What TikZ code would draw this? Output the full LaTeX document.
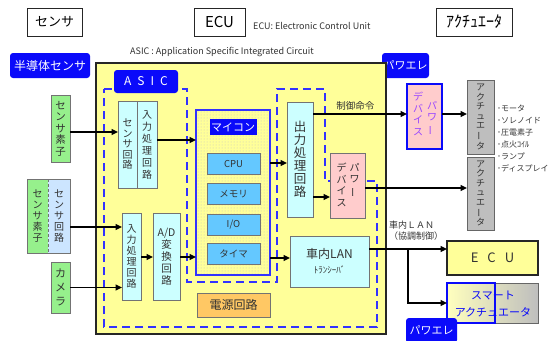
\documentclass[tikz,border=0pt]{standalone}
\usepackage{fontspec}
\setmainfont{Noto Sans CJK JP}
\usetikzlibrary{arrows.meta,patterns}
\definecolor{ecuyellow}{RGB}{255,255,153}
\definecolor{tagblue}{RGB}{10,10,250}
\definecolor{dashblue}{RGB}{50,50,255}
\definecolor{cyanbox}{RGB}{204,255,255}
\definecolor{skybox}{RGB}{100,200,255}
\definecolor{greenbox}{RGB}{150,240,140}
\definecolor{paleblue}{RGB}{204,229,255}
\definecolor{pinkbox}{RGB}{255,204,204}
\definecolor{orangebox}{RGB}{255,200,100}
\definecolor{actgray}{RGB}{190,190,190}
\definecolor{devpurple}{RGB}{153,70,255}
\newcommand{\vbar}{\rotatebox[origin=c]{90}{ー}}

\begin{document}
\begin{tikzpicture}[x=1pt, y=-1pt, font=\fontsize{10}{12}\selectfont,
      hdr/.style={draw=black!85, line width=0.8pt, fill=white, minimum height=28pt,
                  inner sep=0pt, outer sep=0pt, font=\fontsize{13}{13}\selectfont},
      tag/.style={fill=tagblue, rounded corners=3pt, text=white, inner sep=0pt,
                  minimum height=25pt, font=\fontsize{12}{12}\selectfont},
      blk/.style={draw=black!55, line width=0.6pt, inner sep=0pt, outer sep=0pt,
                  align=center, text=black!80},
      vtxt/.style={align=center, inner sep=0pt, text=black!80},
      note/.style={inner sep=0pt, text=black!80, font=\fontsize{9}{11}\selectfont},
      arr/.style={-{Triangle[length=6.5pt,width=6pt]}, line width=1.4pt}
    ]
    \useasboundingbox[fill=white] (0,0) rectangle (554,340);

    % headings
    \node[hdr, minimum width=55pt] (hdrSensor) at (54.5,22) {センサ};
    \node[hdr, minimum width=51pt, font=\fontsize{15}{15}\selectfont] (hdrEcu) at (219.5,22) {ECU};
    \node[note, anchor=west] (ecuNote) at (253,26) {ECU: Electronic Control Unit};
    \node[hdr, minimum width=76pt, font=\fontsize{16}{16}\selectfont] (hdrAct) at (474,22) {ｱｸﾁｭｴｰﾀ};
    \node[note] (asicNote) at (222,52) {ASIC : Application Specific Integrated Circuit};

    \node[tag, minimum width=80pt] (semiTag) at (50,65.5) {半導体センサ};
    \node[tag, minimum width=47pt, font=\fontsize{11}{11}\selectfont] (pwrTag) at (405.5,65.5) {パワエレ};

    % ECU body and ASIC outline
    \node[draw=black!85, line width=1.6pt, fill=ecuyellow, minimum width=290pt,
          minimum height=271pt, inner sep=0pt] (ecuBody) at (241,198.5) {};
    \draw[dashblue, line width=2pt, dash pattern=on 8pt off 5pt]
      (104,89) -- (187,89) -- (187,282) -- (277,282) -- (277,89) -- (325,89)
      -- (325,181) -- (377,181) -- (377,327) -- (104,327) -- cycle;
    \node[tag, minimum width=64pt, minimum height=23pt, font=\fontsize{12}{12}\selectfont]
      (asicTag) at (146,81.5) {A\hspace{6pt}S\hspace{6pt}I\hspace{6pt}C};

    % sensors
    \node[blk, fill=greenbox, minimum width=19pt, minimum height=67pt,
          font=\fontsize{10.5}{11.5}\selectfont] (sensElem) at (60.5,128.5) {セ\\ン\\サ\\素\\子};
    \node[blk, draw=none, fill=greenbox, minimum width=21pt, minimum height=74pt,
          font=\fontsize{10}{11}\selectfont] (sensElemB) at (37.5,216) {セ\\ン\\サ\\素\\子};
    \node[blk, draw=none, fill=paleblue, minimum width=22pt, minimum height=74pt,
          font=\fontsize{10}{11}\selectfont] (sensCircB) at (59,216) {セ\\ン\\サ\\回\\路};
    \draw[black!55, line width=0.6pt] (sensElemB.north west) rectangle (sensCircB.south east);
    \draw[black!55, line width=0.6pt, densely dashed] (sensElemB.north east) -- (sensElemB.south east);
    \node[blk, fill=greenbox, minimum width=19pt, minimum height=51pt,
          font=\fontsize{11}{14}\selectfont] (camera) at (60.5,287.5) {カ\\メ\\ラ};

    % input side of ASIC
    \node[blk, fill=cyanbox, minimum width=19pt, minimum height=87pt,
          font=\fontsize{10}{10.5}\selectfont] (sensCirc) at (127.5,144.5) {セ\\ン\\サ\\回\\路};
    \node[blk, fill=cyanbox, minimum width=20pt, minimum height=87pt,
          font=\fontsize{10}{12}\selectfont] (inProcA) at (147,144.5) {入\\力\\処\\理\\回\\路};
    \node[blk, fill=cyanbox, minimum width=19pt, minimum height=87pt,
          font=\fontsize{10}{11}\selectfont] (inProcB) at (131.5,256.5) {入\\力\\処\\理\\回\\路};
    \node[blk, fill=cyanbox, minimum width=27pt, minimum height=87pt,
          font=\fontsize{10.5}{12}\selectfont] (adConv) at (166.5,256.5) {A/D\\変\\換\\回\\路};

    % microcomputer
    \node[draw=dashblue, line width=1.2pt, fill=gray!6, pattern=dots, pattern color=gray!45,
          minimum width=74pt, minimum height=165pt, inner sep=0pt, outer sep=0pt]
      (micom) at (233,192.5) {};
    \node[fill=tagblue, text=white, minimum width=47pt, minimum height=16pt, inner sep=0pt,
          font=\fontsize{11}{11}\selectfont] (micomTag) at (233,127) {マイコン};
    \foreach \name/\txt/\yy in {cpu/CPU/164, mem/メモリ/194, io/I\slash O/225, timer/タイマ/253.5}
      \node[blk, fill=skybox, minimum width=53pt, minimum height=21pt,
            font=\fontsize{9.5}{10}\selectfont] (\name) at (233.5,\yy) {\txt};

    % output side of ASIC
    \node[blk, fill=cyanbox, minimum width=26pt, minimum height=115pt,
          font=\fontsize{12.5}{13}\selectfont] (outProc) at (300,159.5) {出\\力\\処\\理\\回\\路};
    \node[blk, fill=pinkbox, minimum width=35pt, minimum height=65pt] (pdevIn) at (347.5,185.5) {};
    \node[vtxt, anchor=north, font=\fontsize{10}{11.5}\selectfont] (pdevInL)
      at ([xshift=-6pt, yshift=-10pt]pdevIn.north) {デ\\バ\\イ\\ス};
    \node[vtxt, anchor=north, font=\fontsize{10}{11.5}\selectfont] (pdevInR)
      at ([xshift=7pt, yshift=-10pt]pdevIn.north) {パ\\ワ\\\vbar};
    \node[blk, fill=cyanbox, minimum width=79pt, minimum height=51pt,
          font=\fontsize{12}{17}\selectfont] (lanTrx) at (329.5,261.5)
          {車内LAN\\[-2pt]{\fontsize{9}{9}\selectfont ﾄﾗﾝｼｰﾊﾞ}};
    \node[blk, fill=orangebox, minimum width=73pt, minimum height=24pt,
          font=\fontsize{12}{12}\selectfont] (power) at (233.5,305) {電源回路};

    % outside actuators
    \node[blk, draw=tagblue, line width=1.5pt, fill=pinkbox, minimum width=35pt,
          minimum height=65pt] (pdevOut) at (424.5,116.5) {};
    \node[vtxt, anchor=north, text=devpurple, font=\fontsize{10}{11.5}\selectfont] (pdevOutL)
      at ([xshift=-6.5pt, yshift=-8pt]pdevOut.north) {デ\\バ\\イ\\ス};
    \node[vtxt, anchor=north, text=devpurple, font=\fontsize{10}{11.5}\selectfont] (pdevOutR)
      at ([xshift=7.5pt, yshift=-17pt]pdevOut.north) {パ\\ワ\\\vbar};
    \node[blk, fill=actgray, draw=black!60, minimum width=27pt, minimum height=74pt,
          font=\fontsize{9}{9.5}\selectfont] (actA) at (480.5,117) {ア\\ク\\チ\\ュ\\エ\\\vbar\\タ};
    \node[blk, fill=actgray, draw=black!60, minimum width=27pt, minimum height=73pt,
          font=\fontsize{9}{9.5}\selectfont] (actB) at (480.5,193.5) {ア\\ク\\チ\\ュ\\エ\\\vbar\\タ};
    \node[note, anchor=west, align=left, font=\fontsize{8}{12}\selectfont] (actList) at (497,139)
      {･モータ\\･ソレノイド\\･圧電素子\\･点火ｺｲﾙ\\･ランプ\\･ディスプレイ};
    \node[blk, draw=black!85, line width=1.6pt, fill=ecuyellow, minimum width=91pt, minimum height=34pt,
          font=\fontsize{13}{13}\selectfont] (ecuR) at (492.5,258) {E\hspace{9pt}C\hspace{9pt}U};
    \node[blk, draw=black!60, line width=1pt, left color={rgb,255:red,255;green,255;blue,190},
          right color=actgray, minimum width=91pt, minimum height=40pt] (smartAct) at (492.5,303) {};
    \draw[tagblue, line width=1.3pt] (smartAct.north west) rectangle ([xshift=48pt]smartAct.south west);
    \node[vtxt, text=tagblue, font=\fontsize{11}{17}\selectfont] (smartTxt) at (493,304) {スマート\\アクチュエータ};
    \begin{scope}
      \clip (0,0) rectangle (554,340);
      \node[tag, minimum width=51pt, font=\fontsize{11}{11}\selectfont] (pwrTagB) at (431.5,330.5) {パワエレ};
    \end{scope}

    % connections
    \draw[arr] (sensElem.east |- 0,132) -- (sensCirc.west |- 0,132);
    \draw[arr] (inProcA.east |- 0,140) -- (micom.west |- 0,140);
    \draw[arr] (sensCircB.east |- 0,227) -- (inProcB.west |- 0,227);
    \draw[arr] (camera.east) -- (inProcB.west |- camera.east);
    \draw[arr] (inProcB.east |- 0,257) -- (adConv.west |- 0,257);
    \draw[arr] (adConv.east |- 0,257) -- (micom.west |- 0,257);
    \draw[arr] (micom.east |- 0,163) -- (outProc.west |- 0,163);
    \draw[arr] (micom.east |- 0,258) -- (lanTrx.west |- 0,258);
    \draw[arr] (outProc.east |- 0,197) -- (pdevIn.west |- 0,197);
    \draw[arr] (outProc.east |- 0,114) -- (pdevOut.west |- 0,114)
      node[pos=0.45, above=3pt, note, font=\fontsize{9.5}{10}\selectfont] {制御命令};
    \draw[arr] (pdevOut.east |- 0,114) -- (actA.west |- 0,114);
    \draw[arr] (pdevIn.east |- 0,188) -- (actB.west |- 0,188);
    \coordinate (lanTap) at (408,249);
    \draw[arr] (lanTrx.east |- lanTap) -- (ecuR.west |- lanTap);
    \draw[arr] (lanTap) |- (smartAct.west);
    \node[note, anchor=west, align=left] (lanNote) at (389,231) {車内ＬＡＮ\\（協調制御）};
  \end{tikzpicture}
\end{document}
